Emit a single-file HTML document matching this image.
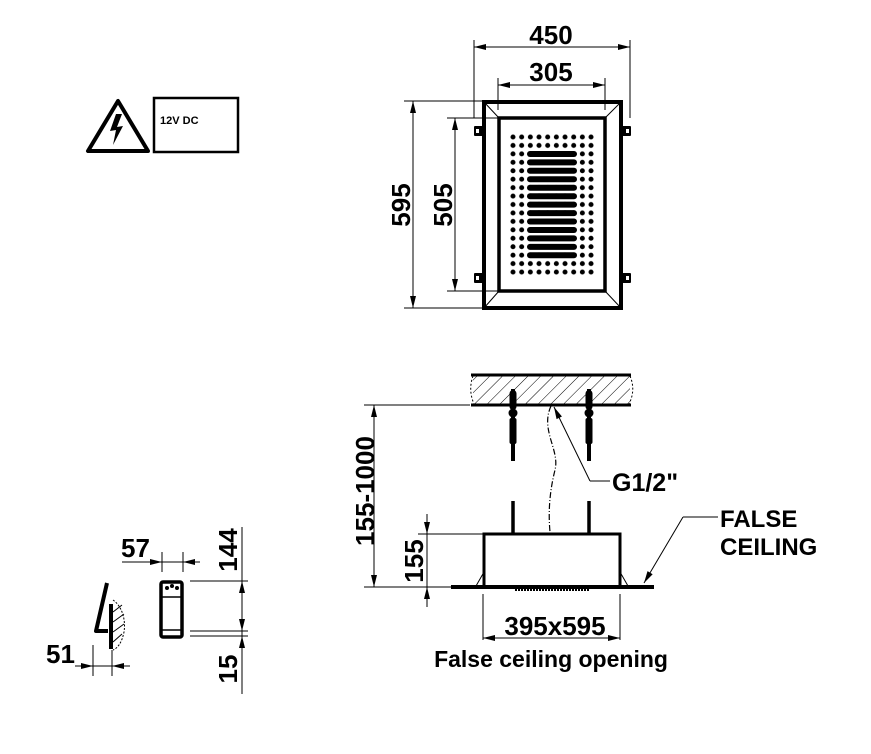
<!DOCTYPE html>
<html><head><meta charset="utf-8"><style>
html,body{margin:0;padding:0;background:#fff}
svg{display:block}
text{font-family:"Liberation Sans",Arial,sans-serif;fill:#000;font-weight:bold}
</style></head><body>
<svg width="871" height="754" viewBox="0 0 871 754" xmlns="http://www.w3.org/2000/svg">
<defs>
<marker id="a" viewBox="0 0 12 6" refX="12" refY="3" markerWidth="13" markerHeight="6" markerUnits="userSpaceOnUse" orient="auto-start-reverse"><path d="M0,0 L12,3 L0,6 Z" fill="#000"/></marker>
<pattern id="dots" patternUnits="userSpaceOnUse" x="508.67" y="132.78" width="8.67" height="8.44"><circle cx="4.33" cy="4.22" r="2.5" fill="#000"/></pattern>
<pattern id="hatch" patternUnits="userSpaceOnUse" width="9" height="9" patternTransform="rotate(45)"><line x1="0" y1="0" x2="0" y2="9" stroke="#000" stroke-width="1"/></pattern>
</defs>

<!-- warning -->
<path d="M118,101 L88,151 L148,151 Z" fill="none" stroke="#000" stroke-width="4" stroke-linejoin="round"/>
<path d="M116,114 L110,131 L116,130 L113,145 L123,126 L117,127 L122,114 Z" fill="#000"/>
<rect x="154" y="98" width="84" height="54" fill="none" stroke="#000" stroke-width="2.5"/>
<text x="160" y="124" font-size="11">12V DC</text>

<!-- top view -->
<g stroke="#000" fill="none">
<rect x="484" y="102" width="137" height="206" stroke-width="4"/>
<rect x="499" y="118" width="106" height="173" stroke-width="3.5"/>
<line x1="484" y1="102" x2="499" y2="118" stroke-width="1"/>
<line x1="621" y1="102" x2="605" y2="118" stroke-width="1"/>
<line x1="484" y1="308" x2="499" y2="291" stroke-width="1"/>
<line x1="621" y1="308" x2="605" y2="291" stroke-width="1"/>
</g>
<g fill="#000">
<rect x="474" y="126" width="9" height="10" rx="1"/>
<rect x="474" y="273" width="9" height="10" rx="1"/>
<rect x="622" y="126" width="9" height="10" rx="1"/>
<rect x="622" y="273" width="9" height="10" rx="1"/>
</g>
<g fill="#fff"><rect x="476" y="129" width="3" height="4"/><rect x="476" y="276" width="3" height="4"/><rect x="626" y="129" width="3" height="4"/><rect x="626" y="276" width="3" height="4"/></g>
<rect x="508.67" y="132.78" width="86.7" height="143.5" fill="url(#dots)"/>
<g fill="#000">
<rect x="527" y="151" width="50" height="6" rx="3"/>
<rect x="527" y="159.4" width="50" height="6" rx="3"/>
<rect x="527" y="167.8" width="50" height="6" rx="3"/>
<rect x="527" y="176.3" width="50" height="6" rx="3"/>
<rect x="527" y="184.7" width="50" height="6" rx="3"/>
<rect x="527" y="193.2" width="50" height="6" rx="3"/>
<rect x="527" y="201.6" width="50" height="6" rx="3"/>
<rect x="527" y="210.1" width="50" height="6" rx="3"/>
<rect x="527" y="218.5" width="50" height="6" rx="3"/>
<rect x="527" y="227" width="50" height="6" rx="3"/>
<rect x="527" y="235.4" width="50" height="6" rx="3"/>
<rect x="527" y="243.9" width="50" height="6" rx="3"/>
<rect x="527" y="252.3" width="50" height="6" rx="3"/>
</g>
<g stroke="#000" stroke-width="1" fill="none">
<line x1="474" y1="40" x2="474" y2="118"/>
<line x1="630" y1="40" x2="630" y2="118"/>
<line x1="474" y1="47" x2="630" y2="47" marker-start="url(#a)" marker-end="url(#a)"/>
<line x1="498" y1="78" x2="498" y2="110"/>
<line x1="605" y1="78" x2="605" y2="110"/>
<line x1="498" y1="85" x2="605" y2="85" marker-start="url(#a)" marker-end="url(#a)"/>
<line x1="404" y1="101" x2="483" y2="101"/>
<line x1="404" y1="308" x2="483" y2="308"/>
<line x1="413" y1="101" x2="413" y2="308" marker-start="url(#a)" marker-end="url(#a)"/>
<line x1="447" y1="118" x2="498" y2="118"/>
<line x1="447" y1="291" x2="498" y2="291"/>
<line x1="455" y1="118" x2="455" y2="291" marker-start="url(#a)" marker-end="url(#a)"/>
</g>
<text x="551" y="44" font-size="26" text-anchor="middle">450</text>
<text x="551" y="81" font-size="26" text-anchor="middle">305</text>
<text transform="translate(410,205) rotate(-90)" font-size="26" text-anchor="middle">595</text>
<text transform="translate(452,205) rotate(-90)" font-size="26" text-anchor="middle">505</text>

<!-- ceiling slab -->
<rect x="473" y="376" width="157" height="28" fill="url(#hatch)"/>
<g stroke="#000" fill="none">
<line x1="471" y1="375" x2="631" y2="375" stroke-width="3"/>
<line x1="471" y1="405" x2="631" y2="405" stroke-width="3"/>
<path d="M473,376 Q468,390 474,404" stroke-width="1" stroke-dasharray="2,2"/>
<path d="M630,376 Q636,390 629,404" stroke-width="1" stroke-dasharray="2,2"/>
<line x1="513" y1="389" x2="513" y2="461" stroke-width="4"/>
<line x1="589" y1="389" x2="589" y2="461" stroke-width="4"/>
<line x1="513" y1="501" x2="513" y2="534" stroke-width="3.5"/>
<line x1="589" y1="501" x2="589" y2="534" stroke-width="3.5"/>
<path d="M551,406 C540,430 560,450 555,470 C550,490 548,510 550,532" stroke-width="1.2" stroke-dasharray="6,2,1,2"/>
<rect x="484" y="534" width="136" height="53" stroke-width="3"/>
<line x1="451" y1="587" x2="654" y2="587" stroke-width="4"/>
<line x1="476" y1="586" x2="484" y2="572" stroke-width="1"/>
<line x1="628" y1="586" x2="620" y2="572" stroke-width="1"/>
<line x1="515" y1="590" x2="590" y2="590" stroke-width="2" stroke-dasharray="2,1"/>
<line x1="364" y1="405" x2="470" y2="405" stroke-width="1"/>
<line x1="364" y1="587" x2="452" y2="587" stroke-width="1"/>
<line x1="374" y1="405" x2="374" y2="587" stroke-width="1" marker-start="url(#a)" marker-end="url(#a)"/>
<line x1="418" y1="534" x2="484" y2="534" stroke-width="1"/>
<line x1="427" y1="514" x2="427" y2="607" stroke-width="1"/>
<line x1="427" y1="514" x2="427" y2="534" stroke-width="1" marker-end="url(#a)"/>
<line x1="427" y1="607" x2="427" y2="587" stroke-width="1" marker-end="url(#a)"/>
<line x1="483" y1="594" x2="483" y2="640" stroke-width="1"/>
<line x1="620" y1="594" x2="620" y2="640" stroke-width="1"/>
<line x1="483" y1="638" x2="620" y2="638" stroke-width="1" marker-start="url(#a)" marker-end="url(#a)"/>
<polyline points="590,481 610,481" stroke-width="1"/>
<line x1="590" y1="481" x2="554" y2="407" stroke-width="1" marker-end="url(#a)"/>
<polyline points="683,517 718,517" stroke-width="1"/>
<line x1="683" y1="517" x2="644" y2="583" stroke-width="1" marker-end="url(#a)"/>
</g>
<g fill="#000">
<rect x="509.5" y="390" width="7" height="20" rx="3.5"/><ellipse cx="513" cy="413" rx="4.5" ry="4.5"/><rect x="509.5" y="418" width="7" height="26" rx="2"/>
<rect x="585.5" y="390" width="7" height="20" rx="3.5"/><ellipse cx="589" cy="413" rx="4.5" ry="4.5"/><rect x="585.5" y="418" width="7" height="26" rx="2"/>
</g>
<text transform="translate(374,491) rotate(-90)" font-size="26" text-anchor="middle">155-1000</text>
<text transform="translate(423,561) rotate(-90)" font-size="26" text-anchor="middle">155</text>
<text x="612" y="491" font-size="25">G1/2"</text>
<text x="720" y="527" font-size="24">FALSE</text>
<text x="720" y="555" font-size="24">CEILING</text>
<text x="555" y="635" font-size="26" text-anchor="middle">395x595</text>
<text x="551" y="667" font-size="23" text-anchor="middle">False ceiling opening</text>

<!-- small items -->
<g stroke="#000" fill="none">
<line x1="162" y1="552" x2="162" y2="572" stroke-width="1"/>
<line x1="183" y1="552" x2="183" y2="572" stroke-width="1"/>
<line x1="122" y1="562" x2="200" y2="562" stroke-width="1"/>
<line x1="140" y1="562" x2="162" y2="562" stroke-width="1" marker-end="url(#a)"/>
<line x1="200" y1="562" x2="183" y2="562" stroke-width="1" marker-end="url(#a)"/>
<rect x="161" y="582" width="21" height="55" rx="2" stroke-width="3.5"/>
<line x1="162" y1="597" x2="181" y2="597" stroke-width="1.5"/>
<line x1="162" y1="630" x2="181" y2="630" stroke-width="1.5"/>
<line x1="190" y1="581" x2="248" y2="581" stroke-width="1"/>
<line x1="190" y1="631" x2="248" y2="631" stroke-width="1"/>
<line x1="190" y1="636" x2="248" y2="636" stroke-width="1"/>
<line x1="242" y1="527" x2="242" y2="694" stroke-width="1"/>
<line x1="242" y1="606" x2="242" y2="581" stroke-width="1" marker-end="url(#a)"/>
<line x1="242" y1="606" x2="242" y2="631" stroke-width="1" marker-end="url(#a)"/>
<line x1="242" y1="656" x2="242" y2="636" stroke-width="1" marker-end="url(#a)"/>
<line x1="93" y1="645" x2="93" y2="676" stroke-width="1"/>
<line x1="112" y1="650" x2="112" y2="676" stroke-width="1"/>
<line x1="75" y1="666" x2="130" y2="666" stroke-width="1"/>
<line x1="75" y1="666" x2="93" y2="666" stroke-width="1" marker-end="url(#a)"/>
<line x1="130" y1="666" x2="112" y2="666" stroke-width="1" marker-end="url(#a)"/>
<path d="M107,583 L96,631 L108,631" stroke-width="4" stroke-linejoin="round"/>
<line x1="111" y1="604" x2="111" y2="649" stroke-width="4"/>
<path d="M113,600 C122,606 126,620 124,632 C122,642 118,648 113,650" stroke-width="1" stroke-dasharray="2,1.5"/>
<path d="M113,612 L122,605 M113,622 L124,614 M113,632 L124,624 M113,642 L122,634" stroke-width="1"/>
</g>
<g fill="#000"><circle cx="167" cy="588" r="2"/><circle cx="172" cy="586" r="2"/><circle cx="177" cy="588" r="2"/></g>
<text x="121" y="557" font-size="26">57</text>
<text x="46" y="663" font-size="26">51</text>
<text transform="translate(237,550) rotate(-90)" font-size="26" text-anchor="middle">144</text>
<text transform="translate(237,669) rotate(-90)" font-size="26" text-anchor="middle">15</text>
</svg>
</body></html>
